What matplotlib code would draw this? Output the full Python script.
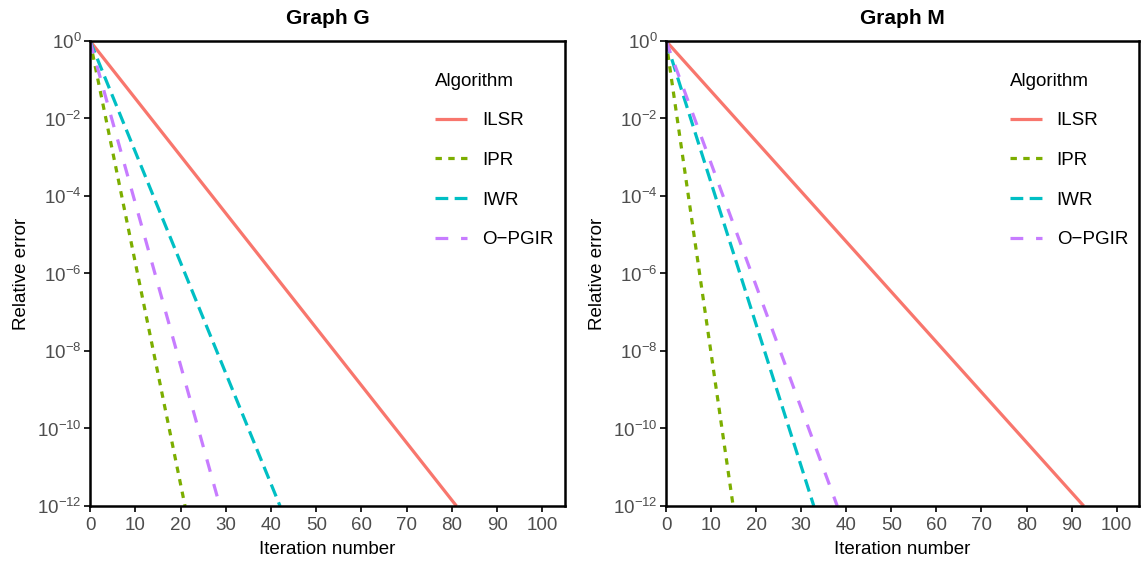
import matplotlib
matplotlib.use('Agg')
import matplotlib.pyplot as plt
from matplotlib.ticker import LogFormatterMathtext, FixedLocator, NullLocator

plt.rcParams['font.family'] = ['Liberation Sans', 'DejaVu Sans']
plt.rcParams['mathtext.default'] = 'regular'

algorithms = ['ILSR', 'IPR', 'IWR', 'O\u2212PGIR']
colors = ['#F8766D', '#7CAE00', '#00BFC4', '#C77CFF']
dashes = [None, (2, 2), (4, 2), (4, 4)]

# relative error drops from 1 to 1e-12, iteration where each curve hits the floor
iters_g = [[0, 81], [0, 21], [0, 42], [0, 28.7]]
iters_m = [[0, 92.7], [0, 14.9], [0, 32.8], [0, 38.0]]
errors = [1.0, 1e-12]

panels = [('Graph G', iters_g), ('Graph M', iters_m)]
xticks = list(range(0, 101, 10))
yticks = [10.0 ** e for e in range(0, -13, -2)]

fs = 13.5

fig = plt.figure(figsize=(11.41, 5.66), dpi=100)
axes = [fig.add_axes([0.0789, 0.106, 0.4163, 0.8216]),
        fig.add_axes([0.5837, 0.106, 0.4147, 0.8216])]

for ax, (title, iters) in zip(axes, panels):
    for name, col, ds, xs in zip(algorithms, colors, dashes, iters):
        line, = ax.plot(xs, errors, color=col, lw=2.3, label=name,
                        solid_capstyle='butt', dash_capstyle='butt')
        if ds is not None:
            line.set_dashes(ds)
    ax.set_yscale('log')
    ax.set_ylim(1e-12, 1)
    ax.set_xlim(0, 105)
    ax.xaxis.set_major_locator(FixedLocator(xticks))
    ax.yaxis.set_major_locator(FixedLocator(yticks))
    ax.yaxis.set_minor_locator(NullLocator())
    ax.yaxis.set_major_formatter(LogFormatterMathtext())
    ax.tick_params(labelsize=fs, labelcolor='#4D4D4D', color='black',
                   length=4, width=1.2, pad=2)
    ax.tick_params(axis='x', pad=4)
    for s in ax.spines.values():
        s.set_linewidth(1.8)
        s.set_color('black')
    ax.set_title(title, fontsize=15, fontweight='bold', pad=12)
    ax.set_xlabel('Iteration number', fontsize=fs, labelpad=5)
    ax.set_ylabel('Relative error', fontsize=fs, labelpad=5)
    leg = ax.legend(title='Algorithm', loc='upper left',
                    bbox_to_anchor=(0.691, 0.968), frameon=False,
                    fontsize=fs, title_fontsize=fs, labelspacing=1.2,
                    handlelength=1.7, handletextpad=0.8)
    leg._legend_box.align = 'left'

fig.savefig('out.png', dpi=100)
